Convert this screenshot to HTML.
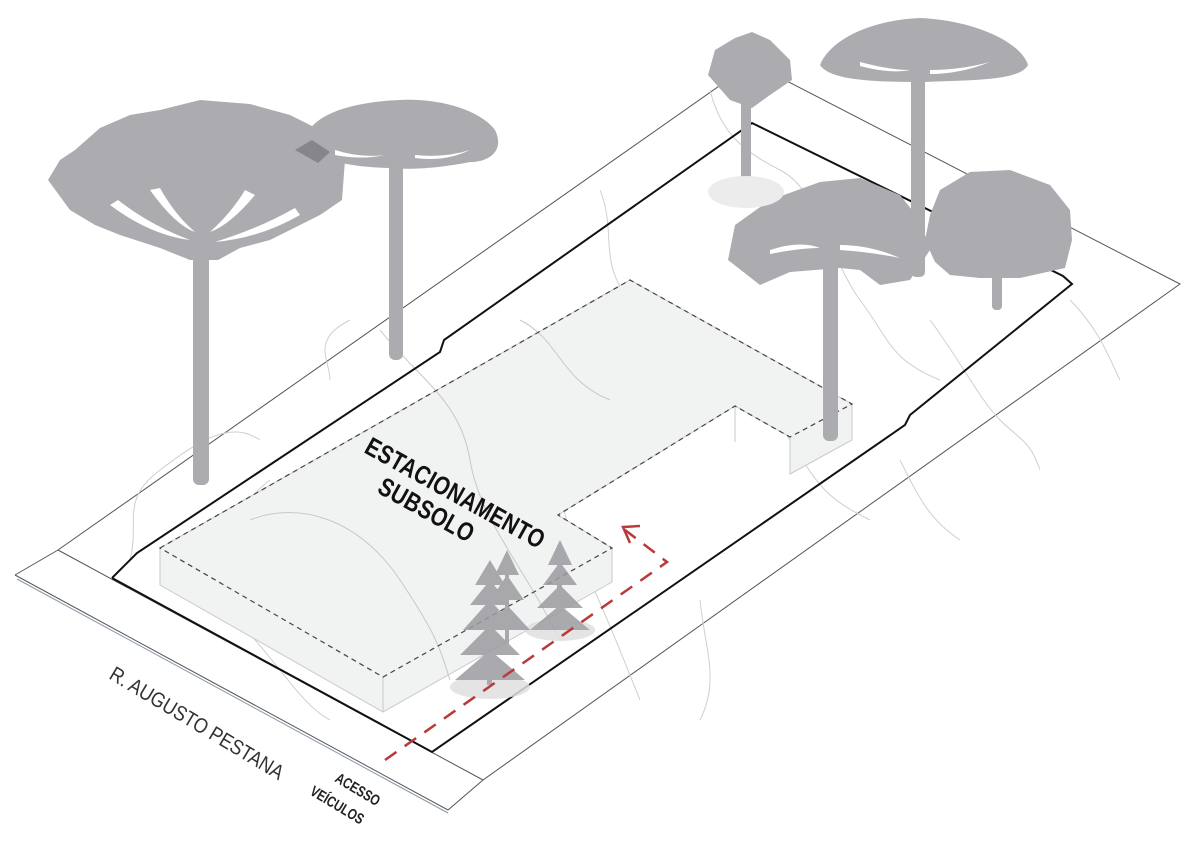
<!DOCTYPE html>
<html><head><meta charset="utf-8"><style>
html,body{margin:0;padding:0;background:#fff;}
svg{display:block;}
text{font-family:"Liberation Sans",sans-serif;}
</style></head><body>
<svg width="1200" height="846" viewBox="0 0 1200 846" xmlns="http://www.w3.org/2000/svg">
<g fill="none" stroke="#555" stroke-width="1">
<polyline points="58,550 752,63 1180,284 483,780 58,550"/>
<polyline points="15,575 58,550"/>
<polyline points="15,575 448,810 483,780"/>
<polyline points="17,579 448,813" stroke="#8899aa"/>
</g>
<g fill="none" stroke="#cfcfcf" stroke-width="1">
<path d="M130,560 C140,520 120,500 160,470 S230,420 260,440"/>
<path d="M235,560 C250,530 230,510 270,480"/>
<path d="M330,380 C330,360 310,340 350,320"/>
<path d="M200,600 C250,610 290,700 330,720"/>
<path d="M600,190 C620,240 590,270 650,320 S760,390 790,440 S830,500 870,520"/>
<path d="M710,90 C720,130 740,150 780,170 S830,260 860,300 S890,360 940,380"/>
<path d="M420,500 C430,460 470,420 520,450 S560,520 580,560 S620,650 640,700"/>
<path d="M700,600 C705,650 720,680 700,720"/>
<path d="M900,460 C920,500 930,520 960,540"/>
<path d="M930,320 C960,360 980,400 1000,420 S1030,440 1040,470"/>
<path d="M1070,300 C1100,330 1110,360 1120,380"/>
</g>
<g fill="#f1f2f2" stroke="#c9c9c9" stroke-width="1">
<polygon points="160,548 630,280 852,404 852,440 790,474 790,437 735,406 558,515 612,548 612,582 383,712 160,585"/>
<polyline points="383,677 383,712" fill="none"/>
<polyline points="790,437 790,474" fill="none"/>
<polyline points="735,406 735,442" fill="none"/>
</g>
<g fill="none" stroke="#c8c8c8">
<path d="M380,330 C420,380 460,400 470,460 S520,560 560,640"/>
<path d="M250,520 C300,500 360,520 400,580 S440,650 450,680"/>
<path d="M520,320 C560,340 560,380 610,400"/>
</g>
<polygon points="160,548 630,280 852,404 790,437 735,406 558,515 612,548 383,677" fill="none" stroke="#444" stroke-width="1.2" stroke-dasharray="5,4"/>
<polyline points="112,578 137,553 440,352 444,340 752,123 1063,276 1072,284 910,415 905,425 432,752 112,578" fill="none" stroke="#111" stroke-width="2"/>
<g fill="#acacb0">
<path d="M48,180 L60,160 L75,150 L100,128 L130,115 L160,110 L200,100 L250,104 L290,115 L320,130 L345,160 L342,200 L320,215 L300,225 L270,240 L240,248 L218,260 L190,260 L160,248 L120,235 L95,225 L70,210 Z"/>
<rect x="193" y="240" width="16" height="245" rx="6"/>
<path d="M305,140 C310,115 350,102 400,100 C440,98 480,110 495,130 C505,150 490,162 470,162 C440,168 410,170 395,168 C370,168 330,165 305,150 Z"/>
<rect x="389" y="160" width="14" height="200" rx="6"/>
<path d="M708,75 L715,50 L735,38 L752,32 L770,40 L790,60 L792,80 L770,95 L752,108 L730,100 Z"/>
<rect x="741" y="100" width="10" height="92" rx="4"/>
<path d="M820,65 C830,40 870,20 920,18 C970,20 1020,40 1028,65 C1020,80 980,80 925,82 C870,82 830,80 820,65 Z"/>
<rect x="911" y="72" width="14" height="205" rx="5"/>
<path d="M728,260 L735,225 L770,200 L820,182 L860,178 L900,195 L920,220 L930,250 L910,280 L880,285 L860,270 L840,268 L790,272 L760,285 Z"/>
<rect x="823" y="255" width="15" height="186" rx="6"/>
<path d="M930,215 L940,190 L970,172 L1010,170 L1050,185 L1070,210 L1072,240 L1065,268 L1020,278 L980,278 L950,275 L935,262 L925,240 Z"/>
<rect x="992" y="255" width="10" height="55" rx="4"/>
</g>
<g fill="#fff">
<path d="M110,205 Q150,235 190,240 Q150,225 118,200Z"/>
<path d="M300,215 Q260,238 215,242 Q260,228 295,208Z"/>
<path d="M150,190 Q175,225 195,232 Q175,215 160,188Z"/>
<path d="M255,195 Q230,225 210,232 Q232,212 245,190Z"/>
<path d="M335,150 Q360,158 385,155 Q360,160 335,155Z"/>
<path d="M415,155 Q445,158 470,150 Q445,162 415,158Z"/>
<path d="M860,62 Q890,70 910,70 Q890,74 860,66Z"/>
<path d="M930,70 Q960,70 990,62 Q960,74 930,74Z"/>
<path d="M770,250 Q800,240 820,248 Q800,248 770,254Z"/>
<path d="M840,245 Q870,245 900,258 Q870,252 840,250Z"/>
</g>
<path d="M295,150 L312,140 L330,152 L318,163 Z" fill="#86868a"/>
<ellipse cx="746" cy="192" rx="38" ry="16" fill="#ececec"/>
<g fill="#9c9ca0" opacity="0.85">
<ellipse cx="490" cy="687" rx="40" ry="12" fill="#e0e0e0"/>
<ellipse cx="560" cy="630" rx="35" ry="11" fill="#e0e0e0"/>
<rect x="487" y="570" width="5" height="115"/>
<polygon points="490,560 475,585 505,585"/><polygon points="490,580 470,605 510,605"/><polygon points="490,600 463,630 517,630"/>
<polygon points="490,625 460,655 520,655"/><polygon points="490,650 455,680 525,680"/>
<rect x="505" y="560" width="4" height="90"/>
<polygon points="507,550 495,575 519,575"/><polygon points="507,575 490,600 524,600"/><polygon points="507,605 485,630 530,630"/>
<rect x="557" y="545" width="5" height="85"/>
<polygon points="560,540 548,565 572,565"/><polygon points="560,562 543,585 577,585"/><polygon points="560,585 537,608 583,608"/><polygon points="560,605 530,630 590,630"/>
</g>
<g fill="none" stroke="#b83a3a" stroke-width="2.5">
<polyline points="385,760 667,562 625,530" stroke-dasharray="14,10"/>
<polyline points="640,526 623,527 630,543"/>
</g>
<g transform="translate(363,452) rotate(29)"><text x="0" y="0" font-size="26" font-weight="bold" fill="#111" transform="scale(0.8,1)" letter-spacing="0.5">ESTACIONAMENTO</text></g>
<g transform="translate(376,492) rotate(29)"><text x="0" y="0" font-size="26" font-weight="bold" fill="#111" transform="scale(0.8,1)" letter-spacing="0.5">SUBSOLO</text></g>
<g transform="translate(108,678) rotate(31)"><text x="0" y="0" font-size="21" fill="#333" transform="scale(0.86,1)">R. AUGUSTO PESTANA</text></g>
<g transform="translate(334,781) rotate(31)"><text x="0" y="0" font-size="15" font-weight="bold" fill="#222" transform="scale(0.78,1)">ACESSO</text></g>
<g transform="translate(309,794) rotate(31)"><text x="0" y="0" font-size="15" font-weight="bold" fill="#222" transform="scale(0.78,1)">VEÍCULOS</text></g>
</svg>
</body></html>
